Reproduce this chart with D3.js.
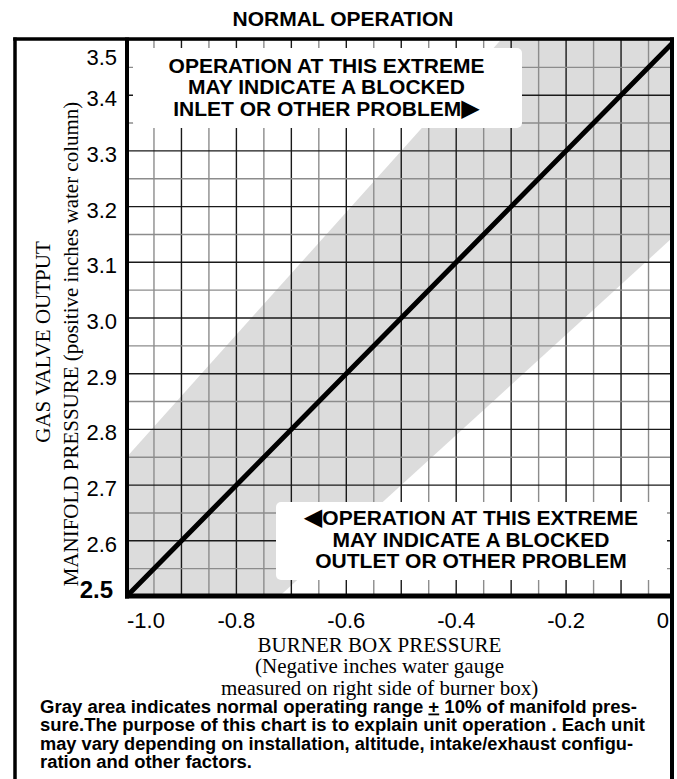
<!DOCTYPE html>
<html>
<head>
<meta charset="utf-8">
<script src="https://cdn.jsdelivr.net/npm/d3@7/dist/d3.min.js"></script>
<style>
  html, body { margin: 0; padding: 0; background: #fff; }
  svg { display: block; }
</style>
</head>
<body>
<svg id="chart" width="677" height="779"></svg>
<script>
// Burner box pressure (x, negative in. w.g.) vs. manifold pressure (y, in. w.c.)
const burnerBox = [-1.0, 0.0];
const manifold = [2.5, 3.5];
// Normal operating band, +/- 10% of manifold pressure
const bandUpper = [2.75, 3.85];
const bandLower = [2.25, 3.15];

const xTicks = [-1.0, -0.8, -0.6, -0.4, -0.2, 0];
const xTickLabels = ["-1.0", "-0.8", "-0.6", "-0.4", "-0.2", "0"];
const yTicks = [2.5, 2.6, 2.7, 2.8, 2.9, 3.0, 3.1, 3.2, 3.3, 3.4, 3.5];
const yTickLabels = ["2.5", "2.6", "2.7", "2.8", "2.9", "3.0", "3.1", "3.2", "3.3", "3.4", "3.5"];

const title = "NORMAL OPERATION";
const yTitle1 = "GAS VALVE OUTPUT";
const yTitle2 = "MANIFOLD PRESSURE (positive inches water column)";
const xTitle = ["BURNER BOX PRESSURE", "(Negative inches water gauge", "measured on right side of burner box)"];
const noteHigh = ["OPERATION AT THIS EXTREME", "MAY INDICATE A BLOCKED", "INLET OR OTHER PROBLEM"];
const noteLow = ["OPERATION AT THIS EXTREME", "MAY INDICATE A BLOCKED", "OUTLET OR OTHER PROBLEM"];
const footer = [
  ["Gray area indicates normal operating range ", "+", " 10% of manifold pres-"],
  ["sure.The purpose of this chart is to explain unit operation . Each unit"],
  ["may vary depending on installation, altitude, intake/exhaust configu-"],
  ["ration and other factors."]
];

const SANS = "'Liberation Sans', Arial, Helvetica, sans-serif";
const SERIF = "'Liberation Serif', 'Times New Roman', Times, serif";

const svg = d3.select("#chart");
svg.append("rect").attr("width", 677).attr("height", 779).attr("fill", "#fff");

// plot frame
const P = { left: 127, right: 672, top: 39.5, bottom: 596.5 };
const x = d3.scaleLinear().domain([-1, 0]).range([126.5, 676]);
const y = d3.scaleLinear().domain([2.5, 3.5]).range([596.5, 39.5]);

svg.append("clipPath").attr("id", "plotClip")
  .append("rect")
  .attr("x", P.left).attr("y", P.top)
  .attr("width", P.right - P.left).attr("height", P.bottom - P.top);

const plot = svg.append("g").attr("clip-path", "url(#plotClip)");

// gray normal-operation band
const bandPts = [
  [burnerBox[0], bandLower[0]], [burnerBox[1], bandLower[1]],
  [burnerBox[1], bandUpper[1]], [burnerBox[0], bandUpper[0]]
];
plot.append("path")
  .attr("d", d3.line().x(d => x(d[0])).y(d => y(d[1]))(bandPts) + "Z")
  .attr("fill", "#dcdcdc");

// grid: minor every 0.05, major every 0.1
const xGrid = d3.range(0, 21).map(i => -1 + i * 0.05);
const yGrid = d3.range(0, 21).map(i => 2.5 + i * 0.05);
const isMajor = i => i % 2 === 0;
plot.selectAll("line.vx").data(xGrid).join("line")
  .attr("x1", d => x(d)).attr("x2", d => x(d))
  .attr("y1", P.top).attr("y2", P.bottom)
  .attr("stroke", (d, i) => isMajor(i) ? "#1a1a1a" : "#8c8c8c")
  .attr("stroke-width", 1.4);
plot.selectAll("line.hy").data(yGrid).join("line")
  .attr("y1", d => y(d)).attr("y2", d => y(d))
  .attr("x1", P.left).attr("x2", P.right)
  .attr("stroke", (d, i) => isMajor(i) ? "#1a1a1a" : "#8c8c8c")
  .attr("stroke-width", 1.4);

// operating line
plot.append("path")
  .attr("d", d3.line().x(d => x(d[0])).y(d => y(d[1]))(burnerBox.map((b, i) => [b, manifold[i]])))
  .attr("fill", "none")
  .attr("stroke", "#000")
  .attr("stroke-width", 5)
  .attr("stroke-linecap", "round");

// annotation boxes
function noteBox(lines, box, cx, baselines, arrow) {
  svg.append("rect")
    .attr("x", box[0]).attr("y", box[1])
    .attr("width", box[2] - box[0]).attr("height", box[3] - box[1])
    .attr("rx", 5).attr("fill", "#fff");
  lines.forEach((t, i) => {
    const txt = svg.append("text")
      .attr("x", cx).attr("y", baselines[i])
      .attr("text-anchor", "middle")
      .attr("font-family", SANS).attr("font-weight", "bold")
      .attr("font-size", 21).attr("fill", "#000");
    if (arrow && arrow.line === i && arrow.side === "left") {
      txt.append("tspan").attr("font-family", "'DejaVu Sans', sans-serif")
        .attr("font-size", 24).text("\u25C0");
    }
    txt.append("tspan").text(t);
    if (arrow && arrow.line === i && arrow.side === "right") {
      txt.append("tspan").attr("font-family", "'DejaVu Sans', sans-serif")
        .attr("font-size", 24).text("\u25B6");
    }
  });
}
noteBox(noteHigh, [133, 48, 522, 128], 326.5, [72.5, 94, 116], { line: 2, side: "right" });
noteBox(noteLow, [276, 502, 667, 580], 471, [525, 547, 568], { line: 0, side: "left" });

// frame and axes lines
const frame = svg.append("g").attr("stroke", "#000").attr("fill", "none");
frame.append("line").attr("x1", 15).attr("x2", 15).attr("y1", 37.5).attr("y2", 779).attr("stroke-width", 3.5);
frame.append("line").attr("x1", 13.2).attr("x2", 674).attr("y1", 39).attr("y2", 39).attr("stroke-width", 3.5);
frame.append("line").attr("x1", 672).attr("x2", 672).attr("y1", 37.5).attr("y2", 779).attr("stroke-width", 4);
frame.append("line").attr("x1", P.left).attr("x2", P.left).attr("y1", 37.5).attr("y2", 598.5).attr("stroke-width", 4);
frame.append("line").attr("x1", 125).attr("x2", 674).attr("y1", 596).attr("y2", 596).attr("stroke-width", 5);

// x tick labels
svg.append("g").selectAll("text").data(xTicks).join("text")
  .attr("x", (d, i) => i === 0 ? P.left : (i === xTicks.length - 1 ? 669 : x(d)))
  .attr("y", 628)
  .attr("text-anchor", (d, i) => i === 0 ? "start" : (i === xTicks.length - 1 ? "end" : "middle"))
  .attr("font-family", SANS).attr("font-size", 22)
  .text((d, i) => xTickLabels[i]);

// y tick labels
svg.append("g").selectAll("text").data(yTicks).join("text")
  .attr("x", (d, i) => i === 0 ? 113 : 117)
  .attr("y", (d, i) => {
    if (i === 0) return y(d) + 1.5;
    if (i === yTicks.length - 1) return y(d) + 25.5;
    return y(d) + 11;
  })
  .attr("text-anchor", "end")
  .attr("font-family", SANS)
  .attr("font-weight", (d, i) => i === 0 ? "bold" : "normal")
  .attr("font-size", (d, i) => i === 0 ? 24 : 22)
  .text((d, i) => yTickLabels[i]);

// title
svg.append("text").attr("x", 343).attr("y", 26)
  .attr("text-anchor", "middle").attr("font-family", SANS)
  .attr("font-weight", "bold").attr("font-size", 21).text(title);

// y-axis title
svg.append("text").attr("transform", "translate(50,342) rotate(-90)")
  .attr("text-anchor", "middle").attr("font-family", SERIF).attr("font-size", 21)
  .text(yTitle1);
svg.append("text").attr("transform", "translate(78,344) rotate(-90)")
  .attr("text-anchor", "middle").attr("font-family", SERIF).attr("font-size", 21)
  .text(yTitle2);

// x-axis title
[652, 673, 695].forEach((yy, i) => {
  svg.append("text").attr("x", 379.5).attr("y", yy)
    .attr("text-anchor", "middle").attr("font-family", SERIF).attr("font-size", 21)
    .text(xTitle[i]);
});

// footnote
const footBase = [712.5, 731, 749.5, 768];
const footWidth = [597, 605, 593, 212];
footer.forEach((parts, i) => {
  const t = svg.append("text").attr("x", 40).attr("y", footBase[i])
    .attr("font-family", SANS).attr("font-weight", "bold").attr("font-size", 18.3)
    .attr("textLength", footWidth[i]).attr("lengthAdjust", "spacingAndGlyphs");
  parts.forEach(p => {
    const s = t.append("tspan").text(p);
    if (p === "+") s.attr("text-decoration", "underline");
  });
});
</script>
</body>
</html>
